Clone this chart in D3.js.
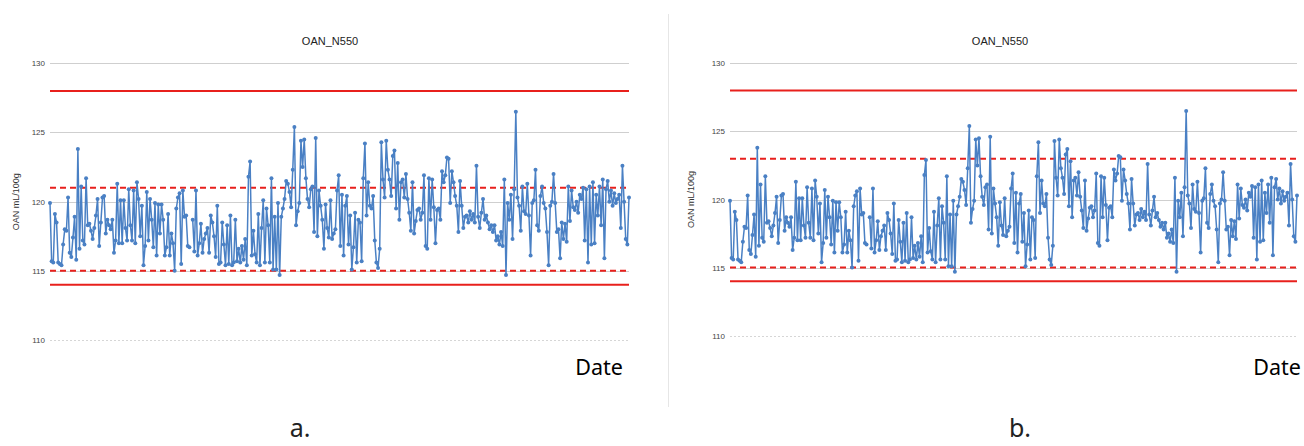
<!DOCTYPE html>
<meta charset="utf-8">
<style>
body { margin: 0; background: #fff; }
svg { display: block; }
.tick-label { font: 8px "Liberation Sans", Arial, sans-serif; fill: #444; }
.title { font: 11px "Liberation Sans", Arial, sans-serif; fill: #222; }
.ylabel { font: 9px "Liberation Sans", Arial, sans-serif; fill: #333; }
.date-label { font: 21.5px "Noto Sans", "DejaVu Sans", sans-serif; fill: #000; }
.caption { font: 25px "Noto Sans", "DejaVu Sans", sans-serif; fill: #222; }
</style>
<body>
<script src="https://cdn.jsdelivr.net/npm/d3@7"></script>
<script>

// OAN readings in date order (null = missing days, leaves a gap in the line)
var oanValues = [
  119.9, 115.7, 115.6, 119.1, 118.5, 115.6, 115.5, 115.4, 116.9, 118.0,
  117.9, 120.3, 116.3, 116.0, 117.4, 118.9, 115.8, 123.8, 116.6, 121.1,
  117.2, 116.9, 121.7, 118.3, 118.4, 117.9, 117.3, 118.1, 119.0, 120.2,
  116.8, 118.5, 120.3, 120.4, 117.7, 118.7, 118.3, 118.0, 118.7, 116.3,
  117.2, 121.3, 117.0, 120.1, 117.0, 120.1, 118.1, 117.2, 120.9, 118.3,
  117.2, 120.8, 117.0, 121.4, 120.2, 117.5, 119.7, 115.4, 116.8, 120.7,
  117.2, 120.2, 118.7, 116.7, 119.9, 116.1, 119.8, 117.7, 119.8, 118.7,
  116.1,
  116.7, 119.1, 116.1, 117.7, 117.0, 115.0, 119.5, 120.3, 120.6, 115.5,
  120.8, 118.9, 119.0, 116.8, 116.7, null,
  118.7, 116.4, 120.8, 116.1, 117.0, 118.4, 116.3, 117.3, 117.7, 118.1,
  116.3, 119.0, 118.5, 117.5, 116.0, 119.7, 115.5, 115.6, 118.5, 116.9,
  115.4, 118.3, 115.5, 119.0, 115.4, 115.6, 118.7, 115.7, 116.6, 115.6,
  116.8, 115.8, 117.3, 115.4, 121.8, 122.9,
  116.1, 117.9, 116.2, 115.6, 119.1, 115.4, 118.1, 120.1, 115.6, 119.5,
  118.3, 115.6, 121.7, 115.1, 118.9, 115.1, 119.9, 114.7, 118.9,
  119.5, 120.2, 121.5, 121.3, 120.7, 119.6, 122.3, 125.4, 118.3, 119.3,
  119.9, 124.4, 122.5, 124.5, 121.7, 120.2, 119.6, 120.9, 121.1, 117.8,
  124.6, 117.5, 120.8, 119.7, 118.7, 116.6, 119.8, 118.1, 117.4, 120.1,
  117.3, 117.7, 118.0, 120.8, 121.9, 116.8, 120.5, 116.1, 119.7, 120.4,
  116.9, 119.0, 115.1, 116.7, 119.2, 115.6, 118.7, 118.5, 115.7, 121.7,
  124.2, 119.0, 121.4, 119.7, 119.5, 120.4, 117.2, 115.6, 115.2, 116.6,
  124.3, 121.6, 120.3, 124.4, 122.3, 121.6, 120.4, 123.3, 123.7, 119.5,
  122.8, 118.7,
  121.4, 121.6, 120.3, 122.0, 120.2, 119.2, 117.9, 121.4, 117.7, 118.6,
  119.4, 119.5, 118.7, 119.2, 121.9, 116.8, 116.6, 121.7, 118.7, 121.6,
  119.6, 117.0, 119.4, 119.5, 118.7, 122.2, 121.4, 121.9, 123.2, 123.1,
  119.9, 122.2, 121.4, 120.4, 119.7, 117.8, 121.5, 119.7, 118.1, 118.9,
  119.0, 118.5, 119.3, 118.7, 119.1, 118.5, 122.6, 118.9, 118.1, 119.2,
  120.2, 118.7, 119.0, 118.5, 118.0, 118.3, 117.8, 118.3, 117.2, 117.5,
  116.9, 117.8, 116.8, 121.6, 114.7, 119.9, 118.7, 120.5, 117.3, 120.9,
  126.5, 120.3, 119.7, 117.9, 121.1, 119.3, 119.1, 121.3, 119.0, 116.1,
  119.9, 120.1, 122.3, 118.3, 117.9, 120.4, 121.1, 119.9, 119.5, 117.8,
  115.4, 119.7, 120.0, 122.0, 119.9, 117.8, 118.0, 115.9, 118.5, 117.3,
  118.4, 117.1, 121.1, 118.6, 120.8, 119.6, 119.4, 120.0, 119.2, 120.5,
  120.2, 121.0, 117.2, 120.9, 115.6, 121.1, 116.9, 121.4, 117.0, 120.5,
  119.0, 121.1, 118.3, 121.6, 115.9, 120.9, 121.5, 120.0, 120.8, 119.7,
  120.6, 119.9, 120.2, 120.5, 118.1, 122.6, 120.0, 117.3, 116.9, 120.3
];

var yTicks = [110, 115, 120, 125, 130];
var controlLimits = [114, 128];          // solid red
var warningLimitsA = [115, 121];         // dashed red, panel a
var warningLimitsB = [115, 123];         // dashed red, panel b
var chartTitle = "OAN_N550";
var yAxisTitle = "OAN mL/100g";
var xAxisTitle = "Date";
var panelCaptions = ["a.", "b."];

var width = 1304, height = 446;
var lineColour = "#4a80c4";
var limitColour = "#e8201c";

var svg = d3.select("body").append("svg")
    .attr("width", width)
    .attr("height", height);

svg.append("rect").attr("width", width).attr("height", height).attr("fill", "#fff");

// thin divider between the two panels
svg.append("line")
    .attr("x1", 668.5).attr("x2", 668.5)
    .attr("y1", 14).attr("y2", 407)
    .attr("stroke", "#e6e6e6");

function renderPanel(p)
{
  var g = svg.append("g");

  var x = d3.scaleLinear()
      .domain([0, oanValues.length - 1])
      .range([p.left, p.right]);

  var y = d3.scaleLinear()
      .domain([110, 130])
      .range([p.bottom, p.top]);

  // gridlines + tick labels
  g.selectAll(".grid")
      .data(yTicks)
      .enter().append("line")
      .attr("x1", p.left).attr("x2", p.right)
      .attr("y1", function(d) { return Math.round(y(d)) + 0.5; })
      .attr("y2", function(d) { return Math.round(y(d)) + 0.5; })
      .attr("stroke", function(d) { return d == 110 ? "#d6d6d6" : "#cfcfcf"; })
      .attr("stroke-dasharray", function(d) { return d == 110 ? "2,2" : null; });

  g.selectAll(".tick-label")
      .data(yTicks)
      .enter().append("text")
      .attr("class", "tick-label")
      .attr("x", p.left - 5)
      .attr("y", function(d) { return y(d) + 3; })
      .attr("text-anchor", "end")
      .text(function(d) { return d; });

  // control limits (solid) and warning limits (dashed)
  g.selectAll(".ctl")
      .data(controlLimits)
      .enter().append("line")
      .attr("x1", p.left).attr("x2", p.right)
      .attr("y1", function(d) { return y(d); })
      .attr("y2", function(d) { return y(d); })
      .attr("stroke", limitColour)
      .attr("stroke-width", 2);

  g.selectAll(".warn")
      .data(p.warning)
      .enter().append("line")
      .attr("x1", p.left).attr("x2", p.right)
      .attr("y1", function(d) { return y(d); })
      .attr("y2", function(d) { return y(d); })
      .attr("stroke", limitColour)
      .attr("stroke-width", 2)
      .attr("stroke-dasharray", "6,4");

  // the series
  var line = d3.line()
      .defined(function(d) { return d != null; })
      .x(function(d, i) { return x(i); })
      .y(function(d) { return y(d); });

  g.append("path")
      .datum(oanValues)
      .attr("d", line)
      .attr("fill", "none")
      .attr("stroke", lineColour)
      .attr("stroke-width", 1.5)
      .attr("stroke-linejoin", "round");

  g.selectAll(".pt")
      .data(oanValues.map(function(v, i) { return {v: v, i: i}; })
                     .filter(function(d) { return d.v != null; }))
      .enter().append("circle")
      .attr("cx", function(d) { return x(d.i); })
      .attr("cy", function(d) { return y(d.v); })
      .attr("r", 2)
      .attr("fill", lineColour);

  // titles
  g.append("text")
      .attr("class", "title")
      .attr("x", p.titleX)
      .attr("y", 45)
      .attr("text-anchor", "middle")
      .text(chartTitle);

  g.append("text")
      .attr("class", "ylabel")
      .attr("transform", "translate(" + p.yLabelX + "," + ((p.top + p.bottom) / 2) + ") rotate(-90)")
      .attr("text-anchor", "middle")
      .text(yAxisTitle);

  g.append("text")
      .attr("class", "date-label")
      .attr("x", p.dateX)
      .attr("y", 375)
      .attr("text-anchor", "end")
      .text(xAxisTitle);

  g.append("text")
      .attr("class", "caption")
      .attr("x", p.captionX)
      .attr("y", 437)
      .attr("text-anchor", "middle")
      .text(p.caption);
}

renderPanel({ left: 50, right: 629, top: 63.3, bottom: 340, warning: warningLimitsA,
              titleX: 330, yLabelX: 19, dateX: 623, captionX: 300, caption: panelCaptions[0] });

renderPanel({ left: 730, right: 1297, top: 63.3, bottom: 335.7, warning: warningLimitsB,
              titleX: 1000, yLabelX: 694, dateX: 1301, captionX: 1020, caption: panelCaptions[1] });

</script>
</body>
